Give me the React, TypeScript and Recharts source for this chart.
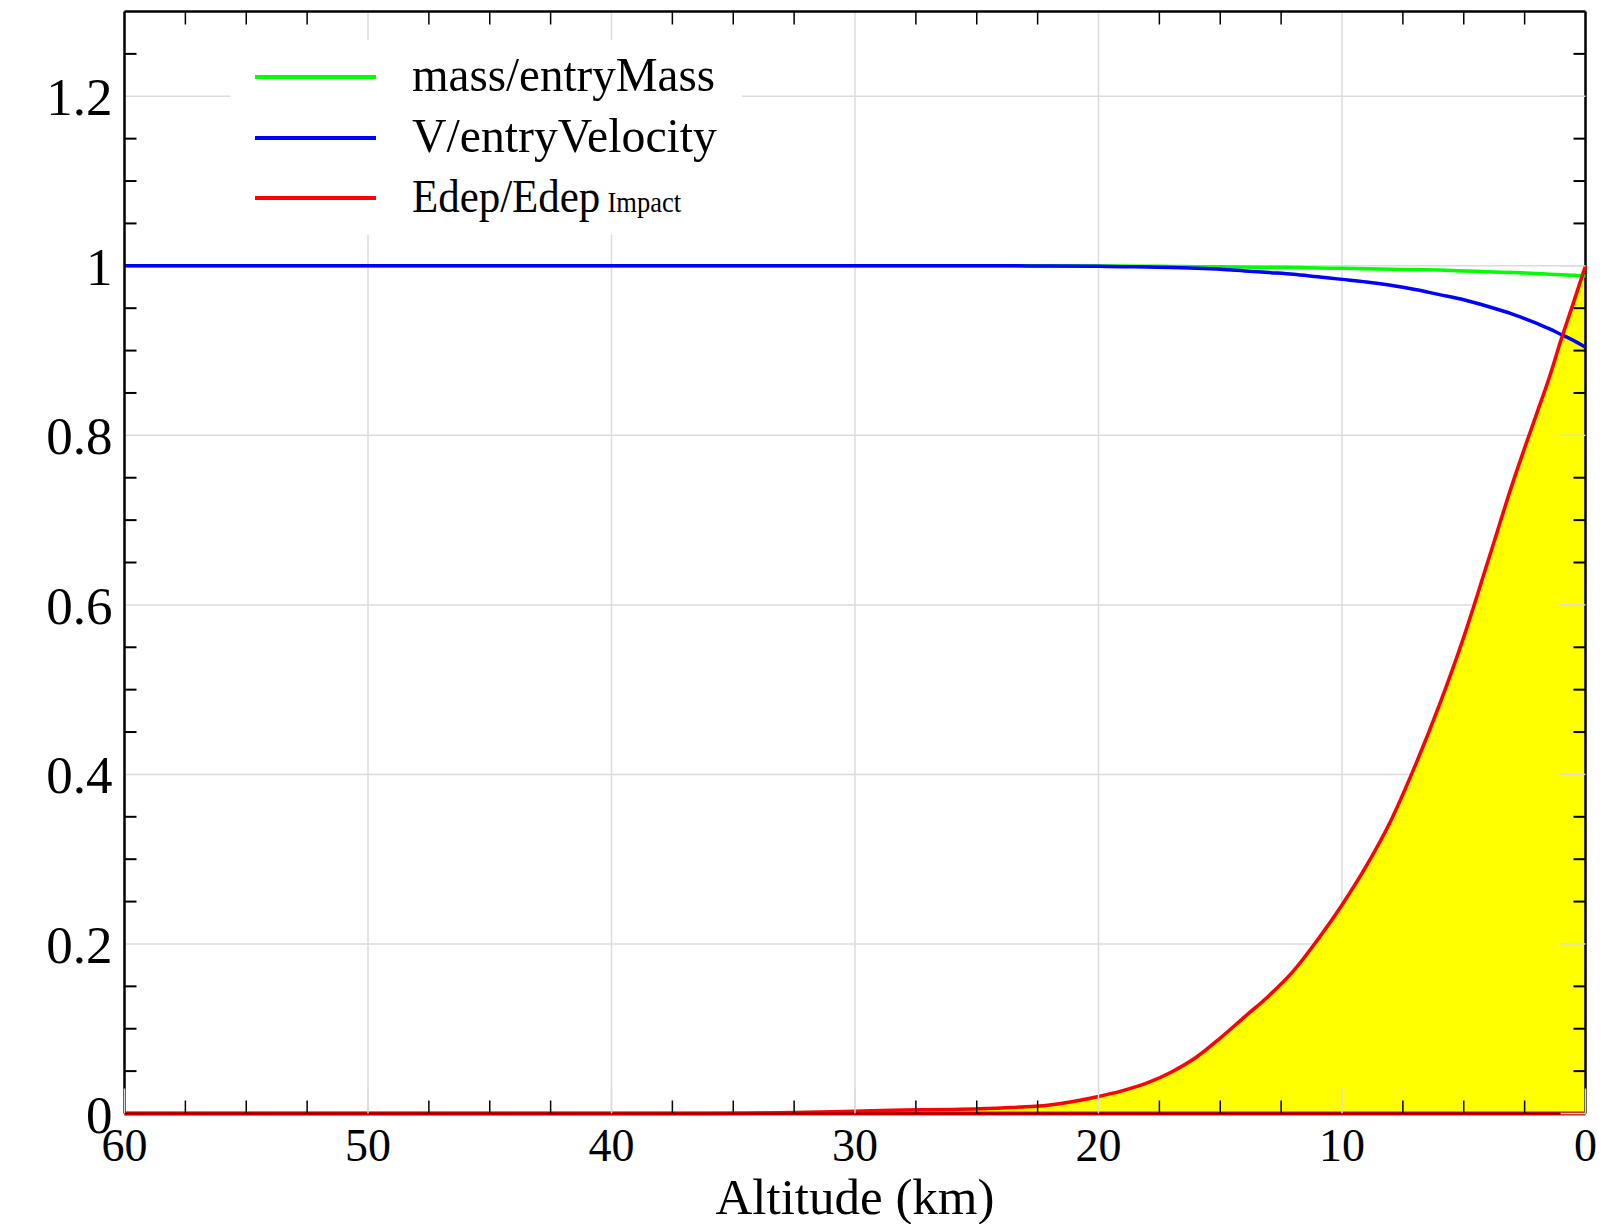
import React from "react";
import {
  ComposedChart,
  Line,
  Area,
  XAxis,
  YAxis,
  CartesianGrid,
  Legend,
  ReferenceLine,
} from "recharts";

// altitude (km) sampled along the entry track
const altitude = [
  60, 50, 40, 36, 34, 32, 30, 28, 26, 24, 22, 20, 19, 18, 17, 16, 15, 14, 13, 12,
  11, 10, 9, 8, 7, 6, 5, 4, 3, 2, 1.5, 1, 0.5, 0,
];
const massRatio = [
  1, 1, 1, 1, 1, 1, 1, 1, 1, 1, 1, 0.9998, 0.9997, 0.9995, 0.9993, 0.999, 0.9988,
  0.9985, 0.9983, 0.998, 0.9975, 0.997, 0.9965, 0.996, 0.9955, 0.995, 0.994, 0.993,
  0.992, 0.991, 0.99, 0.9895, 0.9888, 0.988,
];
const velocityRatio = [
  1, 1, 1, 1, 1, 1, 1, 1, 1, 1, 0.9998, 0.9994, 0.999, 0.9985, 0.998, 0.997, 0.996,
  0.994, 0.992, 0.99, 0.987, 0.984, 0.981, 0.977, 0.972, 0.966, 0.96, 0.952, 0.943,
  0.932, 0.926, 0.919, 0.912, 0.904,
];
const edepRatio = [
  0, 0, 0, 0, 0.0005, 0.0015, 0.0028, 0.004, 0.0048, 0.0065, 0.01, 0.02, 0.027,
  0.036, 0.049, 0.066, 0.089, 0.114, 0.139, 0.168, 0.205, 0.246, 0.292, 0.345,
  0.41, 0.482, 0.562, 0.652, 0.743, 0.826, 0.867, 0.913, 0.956, 1,
];

const xTicks = [
  60, 57.5, 55, 52.5, 50, 47.5, 45, 42.5, 40, 37.5, 35, 32.5, 30, 27.5, 25, 22.5, 20,
  17.5, 15, 12.5, 10, 7.5, 5, 2.5, 0,
];
const xMajor = [60, 50, 40, 30, 20, 10, 0];
const yTicks = [
  0, 0.05, 0.1, 0.15, 0.2, 0.25, 0.3, 0.35, 0.4, 0.45, 0.5, 0.55, 0.6, 0.65, 0.7,
  0.75, 0.8, 0.85, 0.9, 0.95, 1, 1.05, 1.1, 1.15, 1.2, 1.25, 1.3,
];
const yMajor = [0, 0.2, 0.4, 0.6, 0.8, 1, 1.2];
const yLabels = ["0", "0.2", "0.4", "0.6", "0.8", "1", "1.2"];

const legendItems = [
  { name: "mass/entryMass", sub: "", color: "#00ff00", len: 303 },
  { name: "V/entryVelocity", sub: "", color: "#0000ff", len: 305 },
  { name: "Edep/Edep", sub: "Impact", color: "#ff0000", len: 269 },
];

const data = altitude.map((a, i) => ({
  alt: a,
  mass: massRatio[i],
  vel: velocityRatio[i],
  edep: edepRatio[i],
}));

const W = 1614;
const H = 1224;
const M = { top: 11.5, right: 28.5, left: 0, bottom: 0 };
const Y_AXIS_W = 124.5;
const X_AXIS_H = 110.5;
const PLOT_W = W - M.right - Y_AXIS_W;
const PLOT_H = H - M.top - X_AXIS_H;
const FONT = "'Liberation Serif', 'Times New Roman', serif";
const GRID = "#dcdcdc";

function XTick(props: any) {
  const { x, y, payload } = props;
  const v = payload.value;
  if (xMajor.includes(v)) {
    return (
      <g>
        <line x1={x} x2={x} y1={y} y2={y - 25} stroke={GRID} strokeWidth={1.5} />
        <text x={x} y={y + 47.5} textAnchor="middle" fontSize={46} fontFamily={FONT} fill="#000">
          {v}
        </text>
      </g>
    );
  }
  return (
    <g>
      <line x1={x} x2={x} y1={y} y2={y - 13} stroke="#000" strokeWidth={1.5} />
      <line x1={x} x2={x} y1={y - PLOT_H} y2={y - PLOT_H + 13} stroke="#000" strokeWidth={1.5} />
    </g>
  );
}

function YTick(props: any) {
  const { x, y, payload } = props;
  const v = payload.value;
  const idx = yMajor.indexOf(v);
  if (idx >= 0) {
    return (
      <g>
        <line x1={x + PLOT_W} x2={x + PLOT_W - 25} y1={y} y2={y} stroke={GRID} strokeWidth={1.5} />
        <text x={x - 12} y={y + 19} textAnchor="end" fontSize={53} fontFamily={FONT} fill="#000">
          {yLabels[idx]}
        </text>
      </g>
    );
  }
  if (v > 1.29) return <g />;
  return (
    <g>
      <line x1={x} x2={x + 12} y1={y} y2={y} stroke="#000" strokeWidth={2} />
      <line x1={x + PLOT_W} x2={x + PLOT_W - 12} y1={y} y2={y} stroke="#000" strokeWidth={2} />
    </g>
  );
}

function LegendBox() {
  const rowY = [37, 98, 158];
  return (
    <svg width={512} height={195} style={{ display: "block", background: "#fff" }}>
      {legendItems.map((it, i) => (
        <g key={it.name}>
          <line x1={25} x2={146} y1={rowY[i]} y2={rowY[i]} stroke={it.color} strokeWidth={4} />
          <text
            x={182}
            y={rowY[i] + 14}
            fontSize={it.sub ? 47 : 49}
            fontFamily={FONT}
            fill="#000"
            textLength={it.len}
            lengthAdjust="spacingAndGlyphs"
          >
            {it.name}
            {it.sub ? (
              <tspan fontSize={29} dx={8}>
                {it.sub}
              </tspan>
            ) : null}
          </text>
        </g>
      ))}
    </svg>
  );
}

export default function App() {
  return (
    <div style={{ position: "absolute", left: 0, top: 0, background: "#fff" }}>
      <ComposedChart width={W} height={H} data={data} margin={M}>
        <CartesianGrid
          stroke={GRID}
          strokeWidth={1.5}
          verticalValues={xMajor}
          horizontalValues={yMajor}
        />
        <XAxis
          dataKey="alt"
          type="number"
          domain={[0, 60]}
          reversed
          ticks={xTicks}
          interval={0}
          tick={<XTick />}
          tickLine={false}
          tickSize={0}
          tickMargin={0}
          height={X_AXIS_H}
          axisLine={{ stroke: "#000", strokeWidth: 1.5 }}
          label={{
            value: "Altitude (km)",
            position: "insideBottom",
            offset: 10,
            fontSize: 51,
            fontFamily: FONT,
            fill: "#000",
          }}
        />
        <YAxis
          type="number"
          domain={[0, 1.3]}
          ticks={yTicks}
          interval={0}
          tick={<YTick />}
          tickLine={false}
          tickSize={0}
          tickMargin={0}
          width={Y_AXIS_W}
          axisLine={{ stroke: "#000", strokeWidth: 2.5 }}
        />
        <Area
          type="monotone"
          dataKey="edep"
          fill="#ffff00"
          fillOpacity={1}
          stroke="none"
          isAnimationActive={false}
        />
        <ReferenceLine y={0} stroke="#ff0000" strokeWidth={4} />
        <ReferenceLine y={1.3} stroke="#000" strokeWidth={2.5} />
        <ReferenceLine x={0} stroke="#000" strokeWidth={2.5} />
        <Line type="monotone" dataKey="mass" stroke="#00ff00" strokeWidth={3.5} dot={false} isAnimationActive={false} />
        <Line type="monotone" dataKey="vel" stroke="#0000ff" strokeWidth={3.5} dot={false} isAnimationActive={false} />
        <Line type="monotone" dataKey="edep" stroke="#ff0000" strokeWidth={3.5} dot={false} isAnimationActive={false} />
        <Legend
          layout="vertical"
          align="center"
          verticalAlign="middle"
          content={() => <LegendBox />}
          wrapperStyle={{ left: 230, top: 40, width: 512, height: 195 }}
        />
      </ComposedChart>
    </div>
  );
}
